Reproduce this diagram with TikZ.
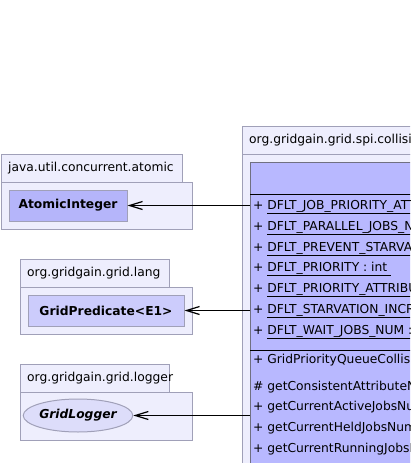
\documentclass[tikz,border=0pt]{standalone}
\usepackage{fontspec}
\setmainfont{DejaVu Sans}
\usepackage{tikz}
\usetikzlibrary{shapes.geometric}
\usetikzlibrary{arrows.meta}
\definecolor{pkgfill}{RGB}{238,238,253}
\definecolor{pkgline}{RGB}{160,160,184}
\definecolor{clsfill}{RGB}{181,181,250}
\definecolor{ifcfill}{RGB}{204,204,252}
\definecolor{logfill}{RGB}{221,221,250}
\definecolor{spifill}{RGB}{184,184,255}
\newcommand{\pkgbox}[4]{\filldraw[pkg] ( #1 , #2 ) rectangle ( #3 , #4 );}
\newcommand{\attr}[2]{\node[member] at (253, #1 ) {+ \underline{#2}};}
\newcommand{\oper}[3]{\node[member] at (253, #1 ) {#2 #3};}
\tikzset{
  pkg/.style={fill=pkgfill, draw=pkgline, line width=1pt},
  pkglabel/.style={anchor=west, inner sep=0pt},
  cls/.style={draw=pkgline, line width=1pt, minimum height=31pt, inner sep=0pt},
  member/.style={anchor=west, inner sep=0pt},
  dep/.style={-{Straight Barb[length=13pt, width=8pt, line width=1.2pt]}, line width=1.2pt}
}
\begin{document}
\begin{tikzpicture}[x=1pt, y=-1pt, font=\fontsize{12.3}{14}\selectfont]
        \useasboundingbox (0,0) rectangle (410,463);
        \clip (0,0) rectangle (410,463);
        % package java.util.concurrent.atomic
        \pkgbox{1}{154}{182}{182}
        \pkgbox{1}{182}{192}{229}
        \node[pkglabel] (atomiclbl) at (8,168) {java.util.concurrent.atomic};
        \node[cls, fill=clsfill, minimum width=118pt] (atomicint) at (68,205.5) {\bfseries AtomicInteger};
        % package org.gridgain.grid.lang
        \pkgbox{20}{259}{169}{287}
        \pkgbox{20}{287}{192}{334}
        \node[pkglabel] (langlbl) at (27,273) {org.gridgain.grid.lang};
        \node[cls, fill=ifcfill, minimum width=156pt] (gridpred) at (106,310.5) {\bfseries GridPredicate<E1>};
        % package org.gridgain.grid.logger
        \pkgbox{20}{364}{169}{392}
        \pkgbox{20}{392}{192}{440}
        \node[pkglabel] (loggerlbl) at (27,378) {org.gridgain.grid.logger};
        \node[cls, ellipse, fill=logfill, minimum width=100pt, minimum height=33pt] (gridlog) at (78,415.5) {\bfseries\itshape GridLogger};
        % package org.gridgain.grid.spi.collision
        \pkgbox{242}{126}{460}{154}
        \pkgbox{242}{154}{470}{480}
        \node[pkglabel] (spilbl) at (249,140) {org.gridgain.grid.spi.collision.priorityqueue};
        \node[draw=pkgline!70!black, line width=1pt, fill=spifill, anchor=north west,
              minimum width=210pt, minimum height=320pt] (spi) at (250,162) {};
        \draw[line width=1pt] (spi.north west) ++(0,32) -- ++(210,0);
        \draw[line width=1pt] (spi.north west) ++(0,188) -- ++(210,0);
        % attributes
        \attr{207}{DFLT\_JOB\_PRIORITY\_ATTRIBUTE\_KEY : String}
        \attr{228}{DFLT\_PARALLEL\_JOBS\_NUM : int}
        \attr{249}{DFLT\_PREVENT\_STARVATION\_ENABLED : boolean}
        \attr{269}{DFLT\_PRIORITY : int\ }
        \attr{290}{DFLT\_PRIORITY\_ATTRIBUTE\_KEY : String}
        \attr{311}{DFLT\_STARVATION\_INCREMENT : int}
        \attr{332}{DFLT\_WAIT\_JOBS\_NUM : int}
        % operations
        \oper{360}{+}{GridPriorityQueueCollisionSpi()}
        \oper{387}{\#}{getConsistentAttributeNames()}
        \oper{407}{+}{getCurrentActiveJobsNumber()}
        \oper{428}{+}{getCurrentHeldJobsNumber()}
        \oper{449}{+}{getCurrentRunningJobsNumber()}
        % dependencies
        \draw[dep] (spi.west |- atomicint) -- (atomicint);
        \draw[dep] (spi.west |- gridpred) -- (gridpred);
        \draw[dep] (spi.west |- gridlog) -- (gridlog);
    \end{tikzpicture}
\end{document}
